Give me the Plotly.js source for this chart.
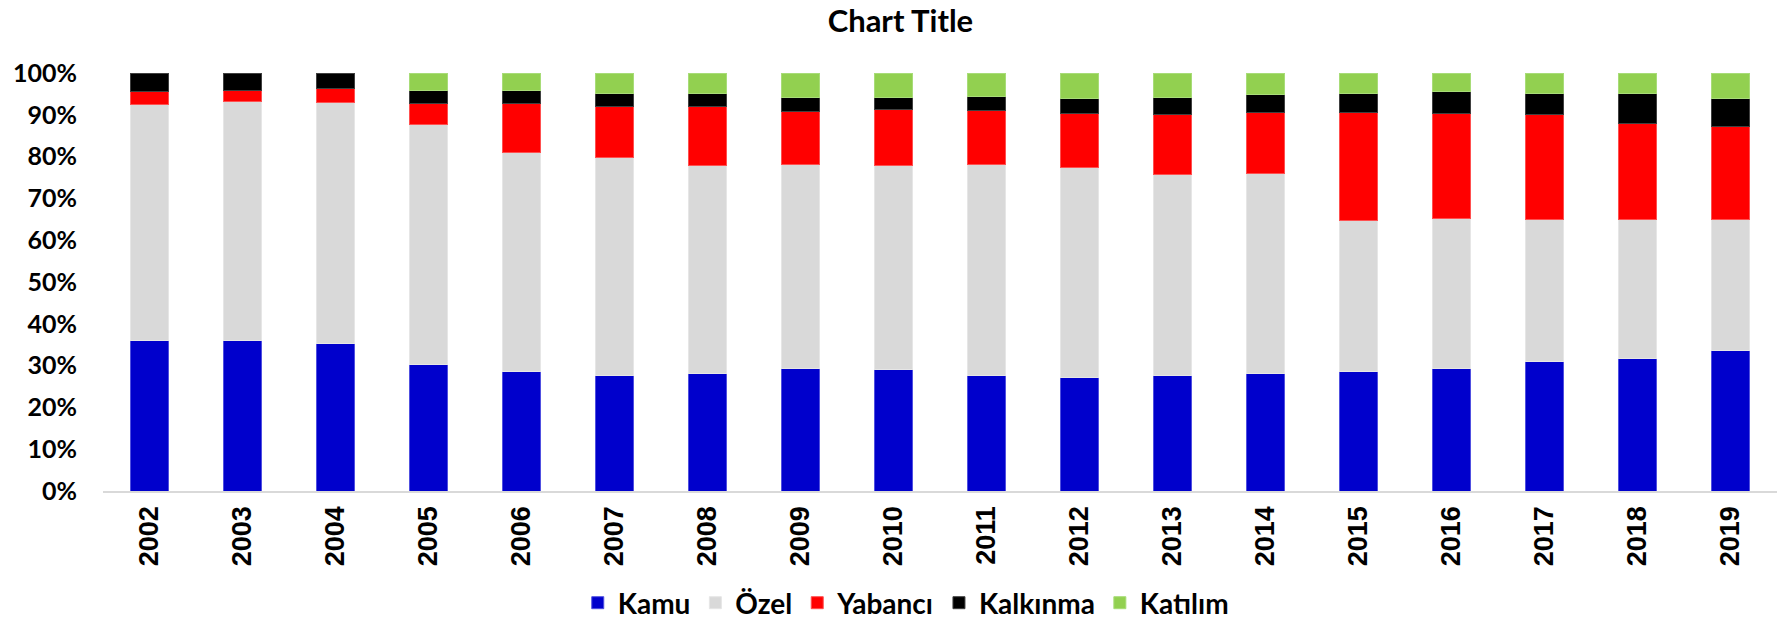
<!DOCTYPE html>
<html>
<head>
<meta charset="utf-8">
<script src="https://cdn.plot.ly/plotly-3.0.1.min.js"></script>
<style>html,body{margin:0;padding:0;background:#fff;}#chart{width:1783px;height:628px;}</style>
</head>
<body>
<div id="chart"></div>
<script>
const years = ["2002","2003","2004","2005","2006","2007","2008","2009","2010","2011","2012","2013","2014","2015","2016","2017","2018","2019"];
const kamu      = [36.1,36.0,35.3,30.3,28.5,27.7,28.0,29.3,29.0,27.6,27.1,27.6,28.1,28.5,29.4,30.9,31.8,33.7];
const ozel      = [56.4,57.1,57.7,57.4,52.5,52.0,49.9,48.8,48.8,50.5,50.2,48.0,47.8,36.3,35.7,34.0,33.1,31.2];
const yabanci   = [3.1,2.8,3.3,5.1,11.7,12.2,14.2,12.8,13.4,13.0,12.9,14.4,14.7,25.8,25.3,25.1,23.1,22.2];
const kalkinma  = [4.4,4.1,3.7,3.1,3.0,3.2,3.1,3.2,3.0,3.2,3.7,4.1,4.2,4.5,5.2,5.1,7.1,6.8];
const katilim   = [0,0,0,4.1,4.3,4.9,4.8,5.9,5.8,5.7,6.1,5.9,5.2,4.9,4.4,4.9,4.9,6.1];
const seriesNames = ["Kamu","Özel","Yabancı","Kalkınma","Katılım"];

const colors = ["#0000CC","#D9D9D9","#FF0000","#000000","#92D050"];
const edges  = ["#5050E0","#E6E6E6","#FF5050","#404040","#A8DC78"];
const values = [kamu, ozel, yabanci, kalkinma, katilim];

const traces = values.map((v, i) => ({
  type: "bar",
  name: seriesNames[i],
  x: years,
  y: v.map(d => d ? d / 100 : null),
  marker: {color: colors[i], line: {color: edges[i], width: 1}},
  hoverinfo: "x+y+name"
}));

const layout = {
  width: 1783, height: 628,
  paper_bgcolor: "#ffffff", plot_bgcolor: "#ffffff",
  margin: {l: 103, r: 6, t: 73, b: 137, pad: 0},
  barmode: "stack",
  bargap: 0.6,
  title: {
    text: "Chart Title",
    font: {family: "Lato, 'Open Sans', sans-serif", size: 31, color: "#000", weight: "bold"},
    x: 0.505, xanchor: "center", xref: "container",
    y: 0.966, yanchor: "middle", yref: "container"
  },
  xaxis: {
    type: "category",
    tickangle: -90,
    showline: true, linecolor: "#d9d9d9", linewidth: 1.5,
    showgrid: false, zeroline: false,
    ticks: "",
    ticklabelstandoff: 3,
    tickfont: {family: "'Liberation Sans', Arial, sans-serif", size: 27, color: "#000", weight: "bold"}
  },
  yaxis: {
    range: [0, 1],
    dtick: 0.1,
    tick0: 0,
    tickformat: ".0%",
    showline: false, showgrid: false, zeroline: false,
    ticks: "",
    ticklabelstandoff: 25,
    tickfont: {family: "Lato, 'Open Sans', sans-serif", size: 25, color: "#000", weight: "bold"}
  },
  showlegend: true,
  legend: {
    orientation: "h",
    traceorder: "normal",
    xref: "container", yref: "container",
    x: 0.508, xanchor: "center",
    y: 0.0, yanchor: "bottom",
    itemgap: 14,
    font: {family: "Lato, 'Open Sans', sans-serif", size: 28, color: "#000", weight: "bold"},
    itemclick: false
  }
};

Plotly.newPlot("chart", traces, layout, {displayModeBar: false, staticPlot: true});
</script>
</body>
</html>
